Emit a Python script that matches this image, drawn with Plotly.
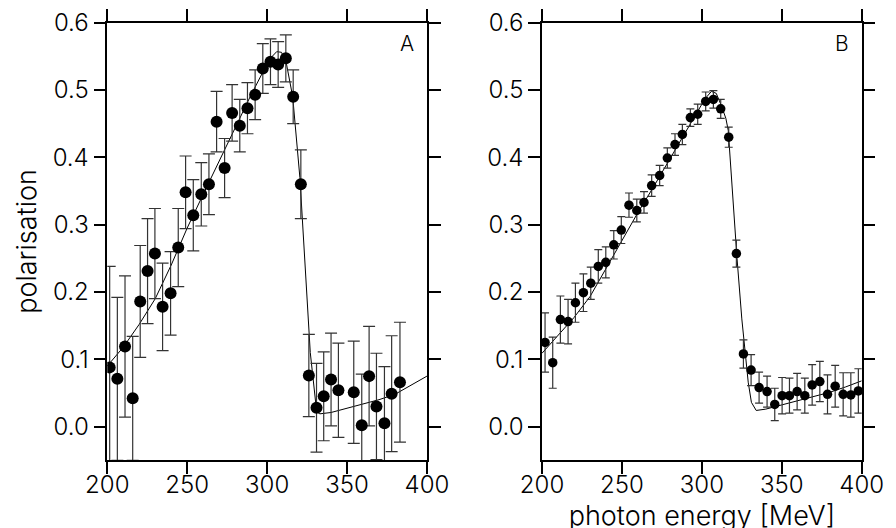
import plotly.graph_objects as go

# panel A data (photon energy in MeV, polarisation)
a_e = [201.5, 206.3, 211.1, 215.9, 220.6, 225.2, 229.8, 234.6, 239.6, 244.4,
       249.0, 253.8, 258.8, 263.6, 268.4, 273.4, 278.1, 282.9, 287.7, 292.5,
       297.3, 302.1, 306.9, 311.7, 316.3, 321.1, 326.1, 330.9, 335.4, 340.0,
       344.6, 354.2, 359.2, 363.8, 368.4, 373.4, 377.9, 383.1]
a_p = [0.088, 0.071, 0.119, 0.042, 0.186, 0.231, 0.257, 0.178, 0.198, 0.266,
       0.348, 0.314, 0.345, 0.360, 0.453, 0.384, 0.466, 0.447, 0.473, 0.493,
       0.532, 0.542, 0.538, 0.547, 0.490, 0.360, 0.076, 0.028, 0.045, 0.070,
       0.054, 0.051, 0.002, 0.075, 0.030, 0.005, 0.049, 0.066]
a_err = [0.150, 0.121, 0.105, 0.092, 0.083, 0.078, 0.067, 0.065, 0.062, 0.058,
         0.054, 0.053, 0.047, 0.045, 0.045, 0.044, 0.042, 0.039, 0.038, 0.037,
         0.037, 0.034, 0.034, 0.035, 0.040, 0.051, 0.061, 0.066, 0.066, 0.069,
         0.070, 0.076, 0.076, 0.074, 0.079, 0.084, 0.086, 0.089]

fit_a_e = [200, 210, 220, 230, 240, 250, 260, 270, 280, 290, 297, 302, 306, 309,
           312, 316, 320.5, 323.5, 327, 331, 333, 340, 350, 360, 370, 380, 390, 400]
fit_a_p = [0.090, 0.118, 0.152, 0.190, 0.240, 0.295, 0.345, 0.395, 0.445, 0.493,
           0.525, 0.547, 0.557, 0.556, 0.540, 0.490, 0.370, 0.245, 0.110, 0.022,
           0.019, 0.021, 0.027, 0.033, 0.040, 0.048, 0.061, 0.075]

# panel B data
b_e = [201.9, 206.7, 211.5, 216.3, 220.9, 225.9, 230.5, 235.2, 239.9, 244.9,
       249.6, 254.4, 259.3, 263.8, 268.6, 273.6, 278.4, 283.2, 287.8, 292.8,
       297.4, 302.4, 307.2, 311.8, 316.8, 321.6, 326.0, 330.8, 335.8, 340.8,
       345.6, 350.2, 354.8, 359.6, 364.4, 369.0, 373.8, 378.6, 383.4, 388.4,
       393.2, 397.9]
b_p = [0.125, 0.095, 0.159, 0.156, 0.184, 0.199, 0.213, 0.238, 0.244, 0.270,
       0.292, 0.329, 0.321, 0.333, 0.358, 0.373, 0.399, 0.419, 0.434, 0.459,
       0.464, 0.483, 0.486, 0.472, 0.430, 0.257, 0.108, 0.084, 0.058, 0.052,
       0.033, 0.046, 0.046, 0.052, 0.046, 0.062, 0.067, 0.048, 0.060, 0.048,
       0.047, 0.053]
b_err = [0.044, 0.038, 0.035, 0.033, 0.029, 0.028, 0.024, 0.025, 0.023, 0.021,
         0.020, 0.018, 0.017, 0.016, 0.016, 0.015, 0.015, 0.016, 0.015, 0.013,
         0.015, 0.014, 0.013, 0.014, 0.015, 0.020, 0.021, 0.023, 0.023, 0.023,
         0.024, 0.027, 0.026, 0.027, 0.026, 0.030, 0.030, 0.029, 0.031, 0.032,
         0.033, 0.033]

fit_b_e = [200, 210, 220, 230, 240, 250, 260, 270, 280, 290, 297, 302, 306, 309,
           312, 315, 316.5, 319.5, 322, 325, 327, 329, 331, 334, 340, 350, 360,
           370, 380, 390, 400]
fit_b_p = [0.109, 0.136, 0.162, 0.193, 0.235, 0.278, 0.318, 0.357, 0.397, 0.437,
           0.466, 0.487, 0.498, 0.495, 0.478, 0.458, 0.440, 0.330, 0.250, 0.160,
           0.113, 0.066, 0.036, 0.024, 0.026, 0.032, 0.039, 0.045, 0.051, 0.059,
           0.068]

x_ticks = [200, 250, 300, 350, 400]
y_ticks = [0.0, 0.1, 0.2, 0.3, 0.4, 0.5, 0.6]

FONT = "Inter, DejaVu Sans, sans-serif"
TICK = dict(family=FONT, size=24, color="black", weight=300)
TITLE = dict(family=FONT, size=27, color="black", weight=300)
LABEL = dict(family=FONT, size=21, color="black", weight=300)

fig = go.Figure()

# fit curves
fig.add_trace(go.Scatter(x=fit_a_e, y=fit_a_p, mode="lines",
                         line=dict(color="black", width=1), xaxis="x", yaxis="y"))
fig.add_trace(go.Scatter(x=fit_b_e, y=fit_b_p, mode="lines",
                         line=dict(color="black", width=1), xaxis="x2", yaxis="y2"))

# measured points
fig.add_trace(go.Scatter(x=a_e, y=a_p, mode="markers",
                         marker=dict(color="black", size=12),
                         error_y=dict(type="data", array=a_err, color="#333333",
                                      thickness=1.2, width=6),
                         xaxis="x", yaxis="y"))
fig.add_trace(go.Scatter(x=b_e, y=b_p, mode="markers", cliponaxis=False,
                         marker=dict(color="black", size=9.5),
                         error_y=dict(type="data", array=b_err, color="#333333",
                                      thickness=1.2, width=4),
                         xaxis="x2", yaxis="y2"))

axis_style = dict(showline=True, linecolor="black", linewidth=1.5, mirror="ticks",
                  ticks="outside", ticklen=12, tickwidth=1.5, tickcolor="black",
                  showgrid=False, zeroline=False, automargin=False,
                  tickfont=TICK)

# the page body adds an 8px margin, so domains are shifted by that amount
fig.update_layout(
    width=896, height=528,
    margin=dict(l=0, r=0, t=0, b=0),
    paper_bgcolor="white", plot_bgcolor="white",
    showlegend=False,
    font=dict(family=FONT, color="black"),
    xaxis=dict(domain=[0.1108, 0.4676], range=[200, 400], tickvals=x_ticks,
               anchor="y", ticklabelstandoff=-10, **axis_style),
    yaxis=dict(domain=[0.1434, 0.9722], range=[-0.05, 0.6], tickvals=y_ticks,
               tickformat=".1f", anchor="x",
               title=dict(text="polarisation", standoff=8, font=TITLE),
               **axis_style),
    xaxis2=dict(domain=[0.5960, 0.9528], range=[200, 400], tickvals=x_ticks,
                anchor="y2", ticklabelstandoff=-10,
                title=dict(text="photon energy [MeV]", standoff=3, font=TITLE),
                **axis_style),
    yaxis2=dict(domain=[0.1434, 0.9722], range=[-0.05, 0.6], tickvals=y_ticks,
                tickformat=".1f", anchor="x2", **axis_style),
    annotations=[
        dict(text="A", x=0.966, y=0.985, xref="x domain", yref="y domain",
             xanchor="right", yanchor="top", showarrow=False, font=LABEL),
        dict(text="B", x=0.966, y=0.985, xref="x2 domain", yref="y2 domain",
             xanchor="right", yanchor="top", showarrow=False, font=LABEL),
    ],
)

fig.write_html("out.html")
